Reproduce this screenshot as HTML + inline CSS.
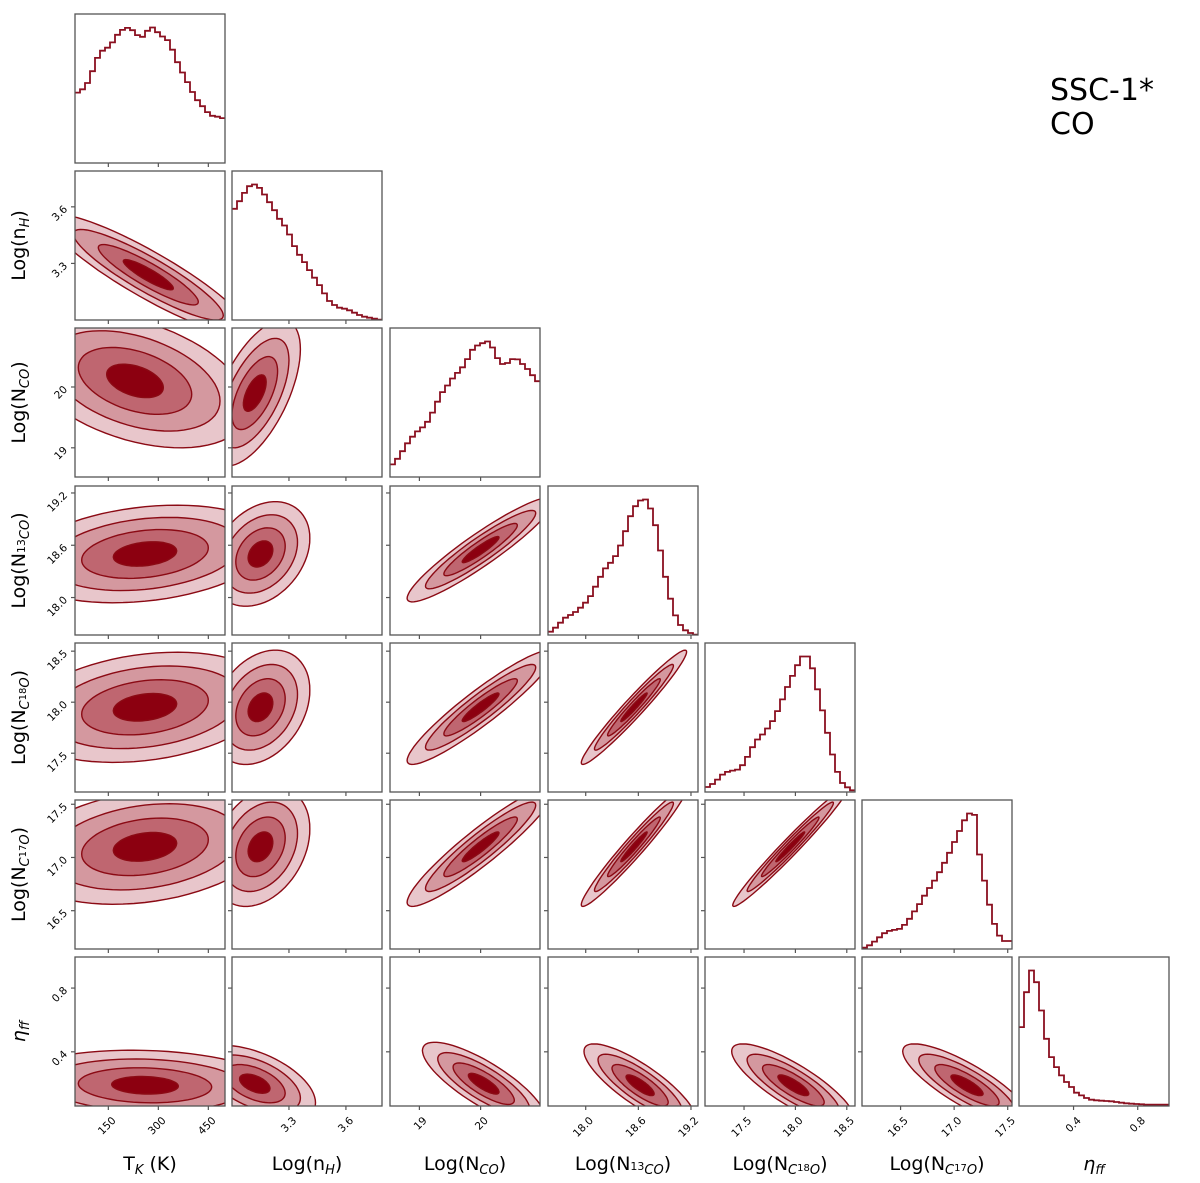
<!DOCTYPE html>
<html><head><meta charset="utf-8"><style>
html,body{margin:0;padding:0;background:#fff;}
svg{display:block;font-family:"DejaVu Sans","Liberation Sans",sans-serif;}
</style></head><body>
<svg id="fig" width="1200" height="1183" viewBox="0 0 1200 1183" xmlns="http://www.w3.org/2000/svg">
<text x="1050" y="100" font-size="30" fill="#000">SSC-1*</text>
<text x="1050" y="134" font-size="30" fill="#000">CO</text>
</svg>
<script>
// ---- data ----
const varNames = ["TK","nH","NCO","N13CO","NC18O","NC17O","eta"];
const ranges = [[50,500],[3.0,3.79],[18.52,20.97],[17.57,19.28],[17.12,18.58],[16.14,17.54],[0.06,0.995]];
const tickVals = [[150,300,450],[3.3,3.6],[19,20],[18.0,18.6,19.2],[17.5,18.0,18.5],[16.5,17.0,17.5],[0.4,0.8]];
const tickLabels = [["150","300","450"],["3.3","3.6"],["19","20"],["18.0","18.6","19.2"],["17.5","18.0","18.5"],["16.5","17.0","17.5"],["0.4","0.8"]];
const histTK = [213,223,242,278,318,340,349,365,388,403,409,402,387,382,400,410,396,383,372,343,305,274,245,215,190,172,154,143,140,136];
const histNH = [334,357,382,402,407,397,377,354,330,304,284,257,222,196,174,150,127,105,80,57,45,37,34,29,22,15,10,7,4,1];
const histNCO = [38,55,78,102,122,138,150,167,195,228,257,277,298,315,332,357,385,398,405,410,392,360,342,345,357,356,342,327,308,290];
const histN13 = [10,22,37,52,60,69,82,97,117,145,175,200,217,237,269,312,357,387,404,407,380,330,254,175,109,59,30,14,6,1];
const histN18 = [15,24,37,52,60,64,67,80,105,134,157,172,190,212,242,277,314,347,379,405,405,370,307,244,177,112,60,27,14,5];
const histN17 = [4,11,22,35,47,54,57,60,72,90,112,134,159,182,204,229,257,287,319,352,384,404,400,282,204,132,75,40,24,24];
const histEta = [237,342,407,372,287,202,147,117,92,72,57,40,32,24,19,17,16,15,14,12,10,8,7,6,5,4,4,4,4,4];
const hists = [histTK,histNH,histNCO,histN13,histN18,histN17,histEta];
// 2D gaussian summaries: [row, col, meanX, meanY, sdX, sdY, rho]
const gauss = [
 [1,0,270,3.24,150,0.16,-0.9],
 [2,0,230,20.1,170,0.55,-0.4],[2,1,3.12,19.9,0.12,0.6,0.6],
 [3,0,260,18.5,190,0.28,0.25],[3,1,3.15,18.5,0.13,0.3,0.3],[3,2,20.0,18.55,0.6,0.3,0.93],
 [4,0,260,17.95,190,0.27,0.25],[4,1,3.15,17.95,0.13,0.28,0.3],[4,2,20.0,17.95,0.6,0.28,0.93],[4,3,18.55,17.95,0.3,0.28,0.97],
 [5,0,260,17.1,190,0.27,0.25],[5,1,3.15,17.1,0.13,0.28,0.3],[5,2,20.0,17.1,0.6,0.28,0.93],[5,3,18.55,17.1,0.3,0.28,0.97],[5,4,17.95,17.1,0.28,0.28,0.98],
 [6,0,260,0.19,200,0.11,-0.1],[6,1,3.12,0.2,0.16,0.12,-0.5],[6,2,20.05,0.2,0.5,0.13,-0.8],[6,3,18.62,0.19,0.32,0.13,-0.82],[6,4,17.98,0.19,0.3,0.13,-0.82],[6,5,17.12,0.19,0.3,0.13,-0.82]
];
const levels = [2,1.5,1,0.5];
const levelColors = ["#e8c6cb","#d4989f","#bf6670","#8c0010"];

// ---- layout ----
const colX=[75,232,390,548,705,862,1019], rowY=[14,171,328,486,643,800,957], PW=150, PH=149;
const NS="http://www.w3.org/2000/svg";
const svg=document.getElementById('fig');
function mk(tag,attrs,parent){const e=document.createElementNS(NS,tag);for(const k in attrs)e.setAttribute(k,attrs[k]);(parent||svg).appendChild(e);return e;}
function xScale(v,col){const r=ranges[col];return colX[col]+(v-r[0])/(r[1]-r[0])*PW;}
function yScale(v,row){const r=ranges[row];return rowY[row]+PH-(v-r[0])/(r[1]-r[0])*PH;}
const defs=mk('defs',{});
for(let r=0;r<7;r++)for(let c=0;c<=r;c++){
  const cp=mk('clipPath',{id:'cp'+r+'_'+c},defs);
  mk('rect',{x:colX[c],y:rowY[r],width:PW,height:PH},cp);
}
// contours
gauss.forEach(g=>{
  const [row,col,mx,my,sx,sy,rho]=g;
  const grp=mk('g',{'clip-path':'url(#cp'+row+'_'+col+')'});
  
  
  levels.forEach((lv,i)=>{
    let d='';
    for(let k=0;k<=72;k++){const t=k/72*2*Math.PI;
      const vx=mx+sx*lv*Math.cos(t);
      const vy=my+sy*lv*(rho*Math.cos(t)+Math.sqrt(1-rho*rho)*Math.sin(t));
      d+=(k?'L':'M')+xScale(vx,col).toFixed(1)+' '+yScale(vy,row).toFixed(1);}
    const p=mk('path',{d:d+'Z',fill:levelColors[i],stroke:'#8b0a14','stroke-width':1.4},grp);
    
    
  });
});
// histograms
hists.forEach((h,i)=>{
  const mx=Math.max(...h)*1.1, n=h.length, r=ranges[i];
  let d='';
  h.forEach((v,k)=>{
    const x0=xScale(r[0]+(r[1]-r[0])*k/n,i), x1=xScale(r[0]+(r[1]-r[0])*(k+1)/n,i);
    const y=rowY[i]+PH-v/mx*PH;
    d+=(k?'L':'M')+x0.toFixed(1)+' '+y.toFixed(1)+'L'+x1.toFixed(1)+' '+y.toFixed(1);
  });
  const p=mk('path',{d:d,fill:'none',stroke:'#8b1020','stroke-width':1.8,'clip-path':'url(#cp'+i+'_'+i+')'});
  
  
});
// frames and ticks
for(let r=0;r<7;r++)for(let c=0;c<=r;c++){
  const f=mk('rect',{x:colX[c],y:rowY[r],width:PW,height:PH,fill:'none',stroke:'#555','stroke-width':1.3});
  
  
  tickVals[c].forEach(v=>{const x=xScale(v,c);mk('line',{x1:x,x2:x,y1:rowY[r]+PH,y2:rowY[r]+PH+4,stroke:'#555','stroke-width':1.2});});
  if(c<r) tickVals[r].forEach(v=>{const y=yScale(v,r);mk('line',{x1:colX[c]-4,x2:colX[c],y1:y,y2:y,stroke:'#555','stroke-width':1.2});});
}
// tick labels
for(let c=0;c<7;c++){
  tickVals[c].forEach((v,k)=>{const x=xScale(v,c),y=rowY[6]+PH+10;
    const t=mk('text',{x:x+3,y:y,'font-size':10.5,'text-anchor':'end',transform:'rotate(-45 '+(x+3)+' '+y+')','dominant-baseline':'hanging'});
    t.textContent=tickLabels[c][k];
    
    });
}
for(let r=1;r<7;r++){
  tickVals[r].forEach((v,k)=>{const y=yScale(v,r),x=colX[0]-7;
    const t=mk('text',{x:x,y:y+3,'font-size':10.5,'text-anchor':'end',transform:'rotate(-45 '+x+' '+(y+3)+')'});
    t.textContent=tickLabels[r][k];
    
    });
}
// axis labels
const labHTML=[
 'T<tspan font-size="13" baseline-shift="-4" font-style="italic">K</tspan> (K)',
 'Log(n<tspan font-size="13" baseline-shift="-4" font-style="italic">H</tspan>)',
 'Log(N<tspan font-size="13" baseline-shift="-4" font-style="italic">CO</tspan>)',
 'Log(N<tspan font-size="11">13</tspan><tspan font-size="13" baseline-shift="-4" font-style="italic">CO</tspan>)',
 'Log(N<tspan font-size="13" baseline-shift="-4" font-style="italic">C</tspan><tspan font-size="10" baseline-shift="-1">18</tspan><tspan font-size="13" baseline-shift="-4" font-style="italic">O</tspan>)',
 'Log(N<tspan font-size="13" baseline-shift="-4" font-style="italic">C</tspan><tspan font-size="10" baseline-shift="-1">17</tspan><tspan font-size="13" baseline-shift="-4" font-style="italic">O</tspan>)',
 '<tspan font-style="italic">η</tspan><tspan font-size="13" baseline-shift="-4" font-style="italic">ff</tspan>'
];
for(let c=0;c<7;c++){
  const t=mk('text',{x:colX[c]+PW/2,y:1170,'font-size':19,'text-anchor':'middle'});
  t.innerHTML=labHTML[c];
  
  
}
for(let r=1;r<7;r++){
  const cy=rowY[r]+PH/2;
  const t=mk('text',{x:25,y:cy,'font-size':19,'text-anchor':'middle',transform:'rotate(-90 25 '+cy+')'});
  t.innerHTML=labHTML[r];
  
  
}
</script>
</body></html>
